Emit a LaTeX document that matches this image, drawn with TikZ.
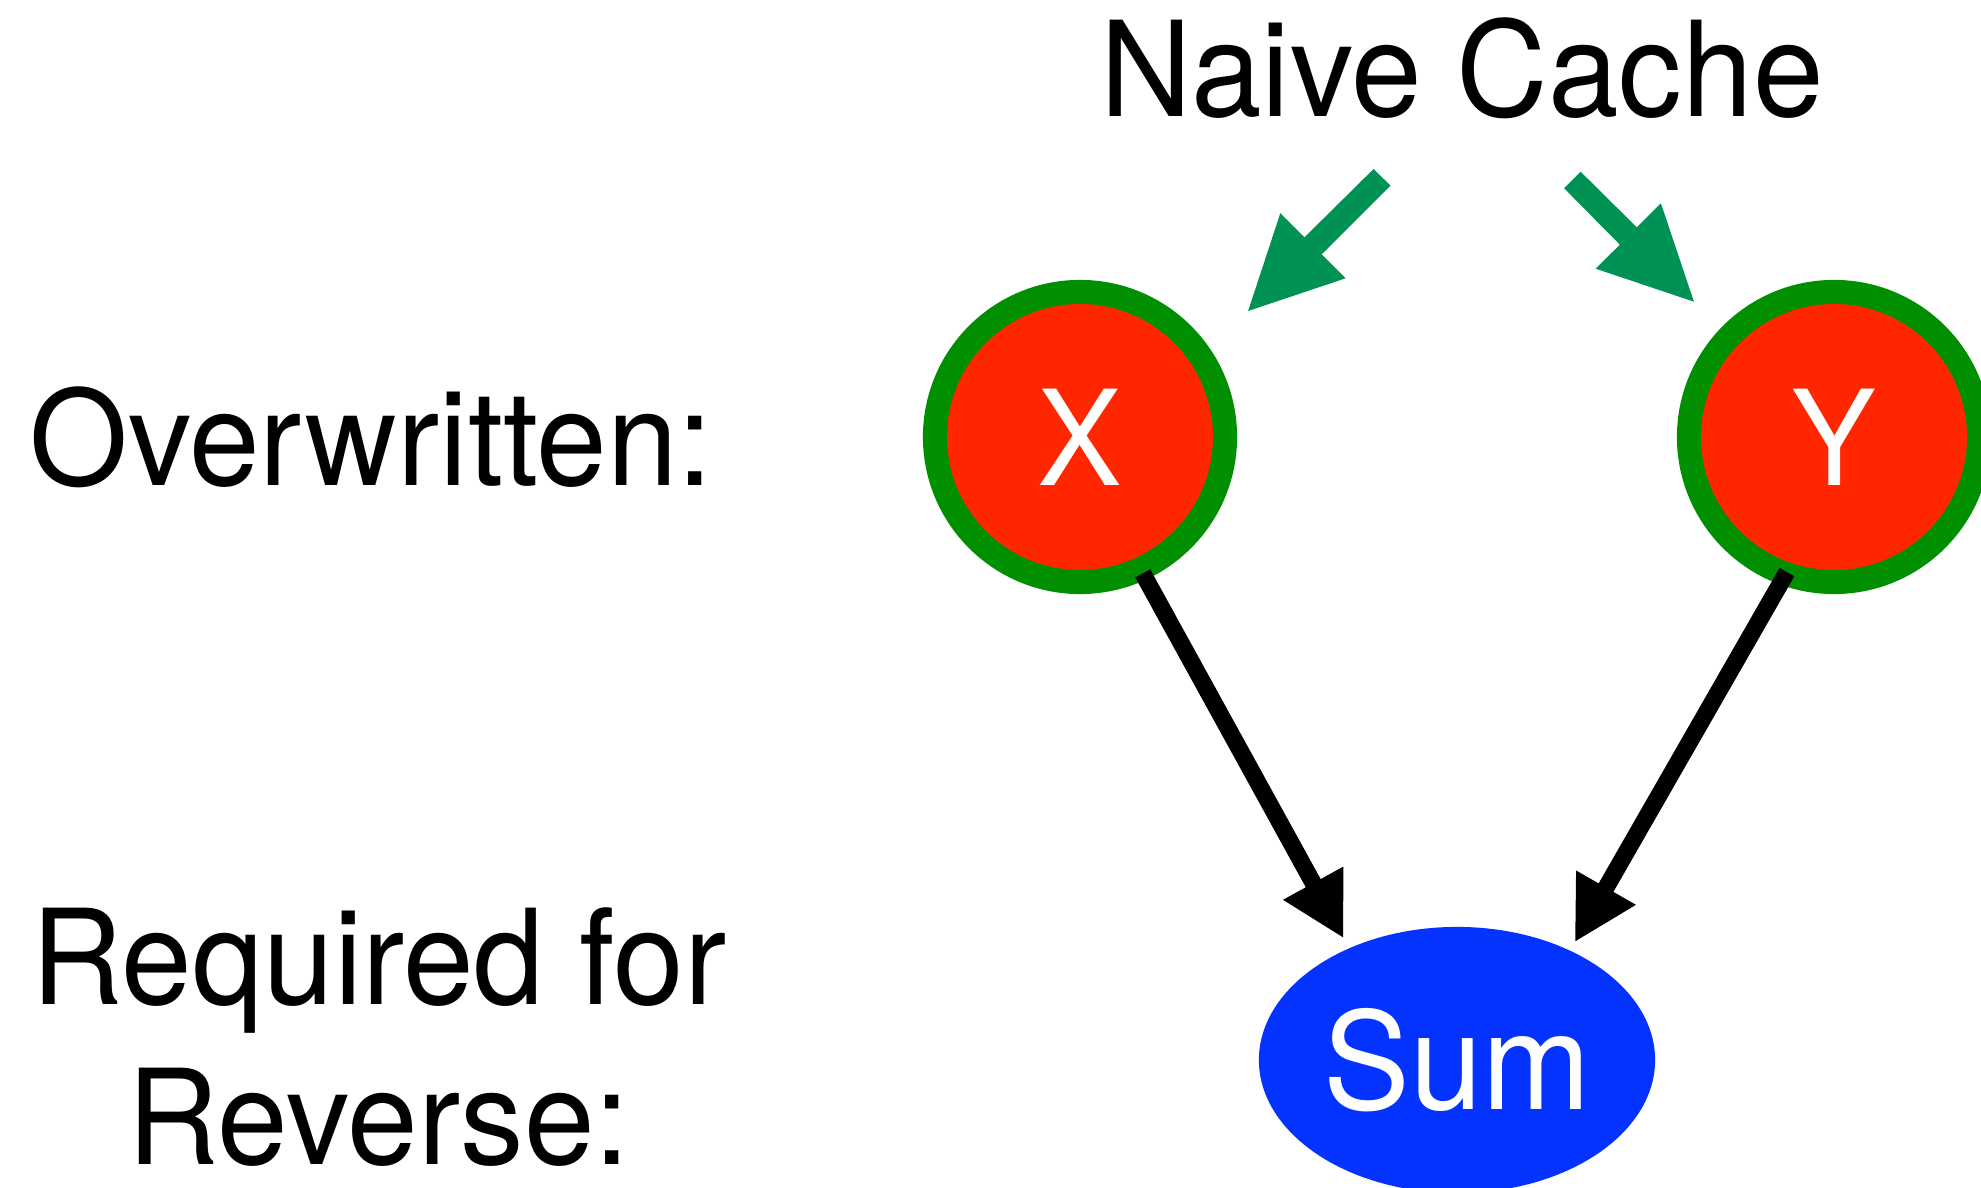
\documentclass[tikz,border=0pt]{standalone}
\usepackage{fontspec}
\setmainfont{TeX Gyre Heros}[FakeStretch=0.96]
\usetikzlibrary{arrows.meta,shapes.geometric,calc}
\definecolor{kred}{HTML}{FF2600}
\definecolor{kring}{HTML}{008F00}
\definecolor{kgreen}{HTML}{009254}
\definecolor{kblue}{HTML}{0433FF}
\tikzset{
  lbl/.style={inner sep=0pt, font=\fontsize{37.6pt}{45.5pt}\selectfont, text=black},
  varnode/.style={circle, draw=kring, line width=0.24cm, fill=kred, minimum size=2.9cm, inner sep=0pt, text=white, font=\fontsize{37.6pt}{45.5pt}\selectfont},
  sumnode/.style={ellipse, fill=kblue, minimum width=3.96cm, minimum height=2.66cm, inner sep=0pt, text=white, font=\fontsize{38.5pt}{46pt}\selectfont},
  blk/.style={line width=0.17cm, -{Triangle[length=0.63cm,width=0.64cm]}},
  garrow/.style={fill=kgreen, draw=none}
}
\begin{document}
\begin{tikzpicture}[x=0.01cm,y=0.01cm]
\useasboundingbox (0,0) rectangle (1981,1188);
\clip (0,0) rectangle (1981,1188);
\fill[white] (0,0) rectangle (1981,1188);

% labels
\node[lbl, anchor=base] (cache) at (1462,1071) {Naive Cache};
\node[lbl, anchor=base] (over) at (371.5,702) {Overwritten:};
\node[lbl, anchor=north, align=center] (req) at (379,281) {Required for\\Reverse:};

% nodes
\node[varnode] (X) at (1080,751) {X};
\node[varnode] (Y) at (1834,751) {Y};
\node[sumnode] (Sum) at (1457,128) {Sum};

% green block arrows
\fill[garrow] (1373.6,1019) -- (1390.5,1002.3) -- (1321.7,933.7) -- (1345.6,909.7)
  -- (1248.1,877) -- (1280.3,974.7) -- (1304.5,950.7) -- cycle;
\fill[garrow] (1580.6,1016.3) -- (1564.1,999.7) -- (1619.9,943.3) -- (1595.6,919.3)
  -- (1693.9,886.3) -- (1660.9,984.7) -- (1636.7,960.7) -- cycle;

% black connectors
\draw[blk] ($(X.center)+(-65.3:1.5cm)$) -- ($(Sum.center)!1.073!(Sum.133.8)$);
\draw[blk] ($(Y.center)+(-109.2:1.43cm)$) -- ($(Sum.center)!1.060!(Sum.45)$);
\end{tikzpicture}
\end{document}
